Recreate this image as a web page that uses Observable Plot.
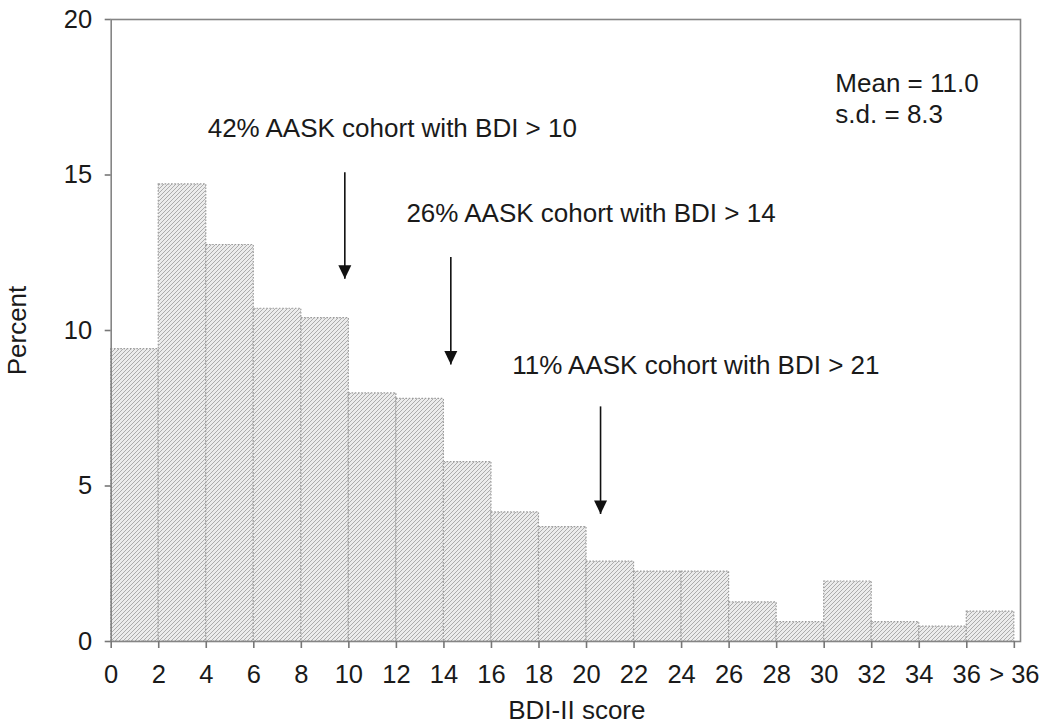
<!DOCTYPE html>
<html>
<head>
<meta charset="utf-8">
<script src="https://cdn.jsdelivr.net/npm/d3@7"></script>
<script src="https://cdn.jsdelivr.net/npm/@observablehq/plot@0.6"></script>
<style>
  html, body { margin: 0; padding: 0; background: #fff; }
  svg { display: block; }
</style>
</head>
<body>
<div id="chart"></div>
<script>
// ---- data ----
const binStart = [0, 2, 4, 6, 8, 10, 12, 14, 16, 18, 20, 22, 24, 26, 28, 30, 32, 34, 36];
const binWidth = 2;
const percent  = [9.4, 14.7, 12.75, 10.7, 10.4, 7.98, 7.8, 5.77, 4.15, 3.68, 2.57, 2.25, 2.25, 1.26, 0.62, 1.93, 0.62, 0.48, 0.96];

const xTicks = [0, 2, 4, 6, 8, 10, 12, 14, 16, 18, 20, 22, 24, 26, 28, 30, 32, 34, 36, 38];
const xTickLabels = ["0","2","4","6","8","10","12","14","16","18","20","22","24","26","28","30","32","34","36","> 36"];
const yTicks = [0, 5, 10, 15, 20];

// annotation arrows (data coordinates)
const arrowX    = [9.83, 14.29, 20.59];
const arrowTop  = [15.09, 12.36, 7.56];
const arrowTip  = [11.66, 8.91, 4.10];

// annotation texts (data coordinates of baseline start)
const noteText = ["42% AASK cohort with BDI > 10", "26% AASK cohort with BDI > 14", "11% AASK cohort with BDI > 21"];
const noteX    = [4.06, 12.42, 16.87];
const noteY    = [16.22, 13.48, 8.59];

const statsText = ["Mean = 11.0", "s.d. = 8.3"];
const statsX    = [30.47, 30.47];
const statsY    = [17.68, 16.67];

// ---- build tables ----
const bars = binStart.map((b, i) => ({x1: b, x2: b + binWidth, y: percent[i]}));
const arrows = arrowX.map((x, i) => ({x, y1: arrowTop[i], y2: arrowTip[i]}));
const notes = noteText.map((t, i) => ({t, x: noteX[i], y: noteY[i]}));
const stats = statsText.map((t, i) => ({t, x: statsX[i], y: statsY[i]}));

const font = "'Liberation Sans', Arial, Helvetica, sans-serif";

const downTriangle = {
  draw(ctx) {
    const w = 13, h = 13.5;
    ctx.moveTo(-w / 2, -h);
    ctx.lineTo(w / 2, -h);
    ctx.lineTo(0, 0);
    ctx.closePath();
  }
};

const svg = Plot.plot({
  width: 1050,
  height: 728,
  marginLeft: 110.7,
  marginRight: 30,
  marginTop: 19,
  marginBottom: 87,
  style: {fontFamily: font, background: "#fff", color: "#222"},
  x: {domain: [0, 38.26], label: null},
  y: {domain: [0, 20], label: null},
  marks: [
    Plot.rectY(bars, {
      x1: "x1", x2: "x2", y: "y",
      fill: "url(#hatch)",
      stroke: "#9c9c9c",
      strokeWidth: 1.2,
      strokeDasharray: "1.6,1.6",
      inset: 0
    }),
    Plot.frame({stroke: "#858585", strokeWidth: 1.6}),
    Plot.axisX({
      ticks: xTicks,
      tickFormat: (d) => xTickLabels[xTicks.indexOf(d)],
      tickSize: 7,
      tickPadding: 16,
      fontSize: 25.5,
      stroke: "#777",
      strokeWidth: 1.6,
      fill: "#1a1a1a",
      label: null
    }),
    Plot.axisY({
      ticks: yTicks,
      tickSize: 6,
      tickPadding: 13,
      fontSize: 25.5,
      stroke: "#777",
      strokeWidth: 1.6,
      fill: "#1a1a1a",
      label: null
    }),
    Plot.link(arrows, {x1: "x", x2: "x", y1: "y1", y2: "y2", stroke: "#111", strokeWidth: 1.6}),
    Plot.dot(arrows, {x: "x", y: "y2", symbol: downTriangle, fill: "#111", stroke: "none"}),
    Plot.text(notes, {x: "x", y: "y", text: "t", textAnchor: "start", lineAnchor: "bottom", fontSize: 26, fill: "#1a1a1a"}),
    Plot.text(stats, {x: "x", y: "y", text: "t", textAnchor: "start", lineAnchor: "bottom", fontSize: 26, fill: "#1a1a1a"}),
    Plot.text(["Percent"], {frameAnchor: "left", dx: -85.7, rotate: -90, textAnchor: "middle", lineAnchor: "bottom", fontSize: 26, fill: "#1a1a1a"}),
    Plot.text(["BDI-II score"], {frameAnchor: "bottom", dx: 11, dy: 77, textAnchor: "middle", lineAnchor: "bottom", fontSize: 26, fill: "#1a1a1a"})
  ]
});

svg.insertAdjacentHTML("afterbegin",
  '<defs><pattern id="hatch" patternUnits="userSpaceOnUse" width="4" height="4">' +
  '<rect width="4" height="4" fill="#ececec"/>' +
  '<path d="M-1,1 l2,-2 M0,4 l4,-4 M3,5 l2,-2" stroke="#acacac" stroke-width="1"/>' +
  '</pattern></defs>');

document.getElementById("chart").appendChild(svg);
</script>
</body>
</html>
